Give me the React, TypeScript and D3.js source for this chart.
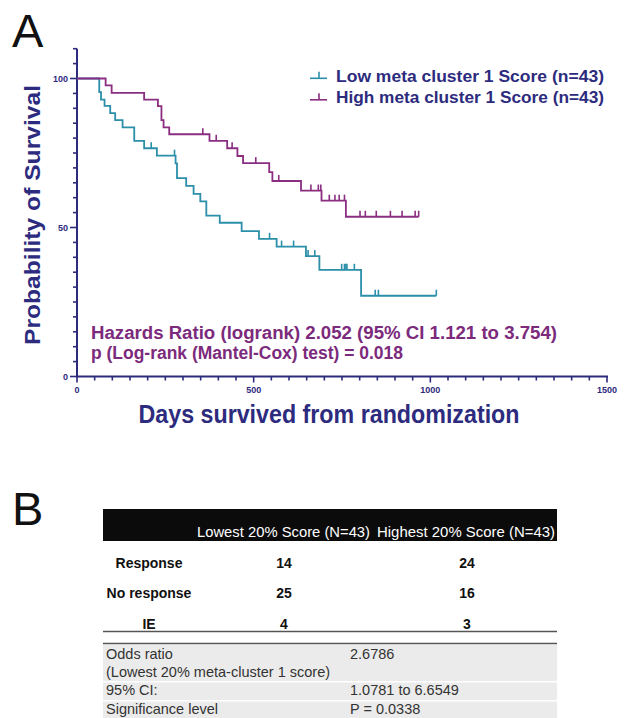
import React from "react";
import * as d3 from "d3";

// ---- Data ----
const lowStepDays = [63, 68, 78, 94, 108, 129, 162, 190, 226, 279, 283, 309, 330, 349, 366, 404, 466, 515, 565, 648, 686, 804];
const lowStepSurv = [95.4, 92.9, 90.8, 88.4, 86.0, 83.6, 79.1, 76.6, 74.1, 71.5, 66.6, 64.0, 61.3, 58.8, 54.0, 51.6, 48.8, 46.2, 43.6, 40.4, 35.8, 27.1];
const lowCensorDays = [210, 276, 545, 579, 613, 654, 673, 749, 757, 761, 764, 785, 844, 853, 1017];
const lowEndDay = 1017;

const highStepDays = [81, 98, 190, 229, 239, 245, 261, 375, 425, 454, 470, 544, 553, 634, 692, 761];
const highStepSurv = [97.7, 95.2, 92.9, 90.7, 86.0, 83.6, 81.3, 79.1, 76.6, 74.0, 71.6, 68.6, 65.6, 62.4, 59.0, 53.6];
const highCensorDays = [356, 394, 439, 506, 571, 662, 683, 690, 714, 730, 742, 757, 801, 816, 847, 887, 920, 957, 967];
const highEndDay = 967;

const seriesLabels = ["Low meta cluster 1 Score (n=43)", "High meta cluster 1 Score (n=43)"];
const xTickValues = [0, 500, 1000, 1500];
const yTickValues = [0, 50, 100];
const annotationLines = [
  "Hazards Ratio (logrank) 2.052 (95% CI 1.121 to 3.754)",
  "p (Log-rank (Mantel-Cox) test) = 0.018",
];

const tableColumns = ["Lowest 20% Score (N=43)", "Highest 20% Score (N=43)"];
const tableRowLabels = ["Response", "No response", "IE"];
const tableLowValues = ["14", "25", "4"];
const tableHighValues = ["24", "16", "3"];
const statLabels = ["Odds ratio", "(Lowest 20% meta-cluster 1 score)", "95% CI:", "Significance level"];
const statValues = ["2.6786", "", "1.0781 to 6.6549", "P = 0.0338"];

// ---- Styles ----
const NAVY = "#2d2b7e";
const BLUE = "#2b8fa9";
const PURPLE = "#8b2d81";
const PURPLE_TEXT = "#7c2a7c";
const FONT = "'Liberation Sans', Arial, Helvetica, sans-serif";

function survAt(days: number[], surv: number[], t: number) {
  let s = 100;
  for (let i = 0; i < days.length; i++) if (days[i] <= t) s = surv[i];
  return s;
}

export default function App() {
  const x = d3.scaleLinear().domain([0, 1500]).range([77, 607]);
  const y = d3.scaleLinear().domain([0, 110]).range([376.5, 48.7]);
  const line = d3
    .line<[number, number]>()
    .x((d) => x(d[0]))
    .y((d) => y(d[1]))
    .curve(d3.curveStepAfter);

  const makePts = (days: number[], surv: number[], end: number): [number, number][] => {
    const pts: [number, number][] = [[0, 100]];
    days.forEach((dd, i) => pts.push([dd, surv[i]]));
    pts.push([end, surv[surv.length - 1]]);
    return pts;
  };

  const series = [
    { days: lowStepDays, surv: lowStepSurv, cens: lowCensorDays, end: lowEndDay, color: BLUE },
    { days: highStepDays, surv: highStepSurv, cens: highCensorDays, end: highEndDay, color: PURPLE },
  ];

  const minorY = d3.range(0, 111, 5);
  const minorX = d3.range(0, 1501, 50);

  // table layout
  const tL = 103;
  const tR = 557;
  const colLabelX = 149;
  const colLowX = 284;
  const colHighX = 467;
  const rowBase = [567.5, 598, 628.5];
  const statBase = [658.5, 676.5, 695, 713.5];
  const bandTop = [645, 682.5, 701.5];
  const bandBot = [681, 700, 718];

  return (
    <svg
      width={627}
      height={718}
      style={{ position: "absolute", left: 0, top: 0, background: "#fff" }}
      fontFamily={FONT}
    >
      {/* Panel letters */}
      <text x={12} y={47} fontSize={47} fill="#111">A</text>
      <text x={12} y={525} fontSize={47} fill="#111">B</text>

      {/* Y axis */}
      <line x1={77} x2={77} y1={y(110)} y2={y(0) + 1} stroke={NAVY} strokeWidth={2} />
      {minorY.map((v) => (
        <line key={"my" + v} x1={yTickValues.includes(v) ? 70 : 73} x2={77} y1={y(v)} y2={y(v)} stroke={NAVY} strokeWidth={1.6} />
      ))}
      {yTickValues.map((v) => (
        <text key={"yl" + v} x={68} y={y(v) + 3.2} textAnchor="end" fontSize={9} fontWeight="bold" fill={NAVY}>
          {v}
        </text>
      ))}

      {/* X axis */}
      <line x1={76} x2={x(1500) + 1} y1={y(0)} y2={y(0)} stroke={NAVY} strokeWidth={2} />
      {minorX.map((v) => (
        <line key={"mx" + v} x1={x(v)} x2={x(v)} y1={y(0)} y2={y(0) + (xTickValues.includes(v) ? 6 : 4)} stroke={NAVY} strokeWidth={1.6} />
      ))}
      {xTickValues.map((v) => (
        <text key={"xl" + v} x={x(v)} y={393} textAnchor="middle" fontSize={9} fontWeight="bold" fill={NAVY}>
          {v}
        </text>
      ))}

      {/* Axis titles */}
      <text
        transform="translate(40,215) rotate(-90)"
        textAnchor="middle"
        fontSize={21.5}
        fontWeight="bold"
        fill={NAVY}
        textLength={260}
        lengthAdjust="spacingAndGlyphs"
      >
        Probability of Survival
      </text>
      <text x={329} y={423} textAnchor="middle" fontSize={25} fontWeight="bold" fill={NAVY} textLength={381} lengthAdjust="spacingAndGlyphs">
        Days survived from randomization
      </text>

      {/* Survival curves */}
      {series.map((s, i) => (
        <g key={"s" + i}>
          <path d={line(makePts(s.days, s.surv, s.end)) || ""} fill="none" stroke={s.color} strokeWidth={1.8} />
          {s.cens.map((c, j) => {
            const yy = y(survAt(s.days, s.surv, c));
            return <line key={j} x1={x(c)} x2={x(c)} y1={yy} y2={yy - 6} stroke={s.color} strokeWidth={1.6} />;
          })}
        </g>
      ))}

      {/* Legend */}
      {seriesLabels.map((lab, i) => {
        const ly = 78.3 + i * 21.5;
        const col = i === 0 ? BLUE : PURPLE;
        return (
          <g key={"lg" + i}>
            <line x1={310} x2={327} y1={ly} y2={ly} stroke={col} strokeWidth={1.6} />
            <line x1={319} x2={319} y1={ly} y2={ly - 6.5} stroke={col} strokeWidth={1.6} />
            <text x={336} y={ly + 3.5} fontSize={16.5} fontWeight="bold" fill={NAVY} textLength={268} lengthAdjust="spacingAndGlyphs">
              {lab}
            </text>
          </g>
        );
      })}

      {/* Annotation */}
      <text x={91} y={339.3} fontSize={18} fontWeight="bold" fill={PURPLE_TEXT} textLength={466} lengthAdjust="spacingAndGlyphs">
        {annotationLines[0]}
      </text>
      <text x={91} y={358.5} fontSize={18} fontWeight="bold" fill={PURPLE_TEXT} textLength={312} lengthAdjust="spacingAndGlyphs">
        {annotationLines[1]}
      </text>

      {/* Table B header */}
      <rect x={tL} y={509} width={tR - tL} height={32} fill="#0b0b0b" />
      <text x={197} y={537} fontSize={14.5} fill="#fff" textLength={173} lengthAdjust="spacingAndGlyphs">
        {tableColumns[0]}
      </text>
      <text x={377} y={537} fontSize={14.5} fill="#fff" textLength={178} lengthAdjust="spacingAndGlyphs">
        {tableColumns[1]}
      </text>

      {tableRowLabels.map((lab, i) => (
        <g key={"tr" + i}>
          <text x={colLabelX} y={rowBase[i]} textAnchor="middle" fontSize={14} fontWeight="bold" fill="#111">
            {lab}
          </text>
          <text x={colLowX} y={rowBase[i]} textAnchor="middle" fontSize={14} fontWeight="bold" fill="#111">
            {tableLowValues[i]}
          </text>
          <text x={colHighX} y={rowBase[i]} textAnchor="middle" fontSize={14} fontWeight="bold" fill="#111">
            {tableHighValues[i]}
          </text>
        </g>
      ))}
      <line x1={tL} x2={tR} y1={631.5} y2={631.5} stroke="#555" strokeWidth={1.5} />

      {/* Stats table */}
      {bandTop.map((t, i) => (
        <rect key={"bd" + i} x={tL} y={t} width={tR - tL} height={bandBot[i] - t} fill="#ebebeb" />
      ))}
      <line x1={tL} x2={tR} y1={643.5} y2={643.5} stroke="#555" strokeWidth={1.5} />
      {statLabels.map((lab, i) => (
        <g key={"st" + i}>
          <text x={106} y={statBase[i]} fontSize={14.5} fill="#333">
            {lab}
          </text>
          {statValues[i] ? (
            <text x={350} y={statBase[i]} fontSize={14.5} fill="#333">
              {statValues[i]}
            </text>
          ) : null}
        </g>
      ))}
    </svg>
  );
}
